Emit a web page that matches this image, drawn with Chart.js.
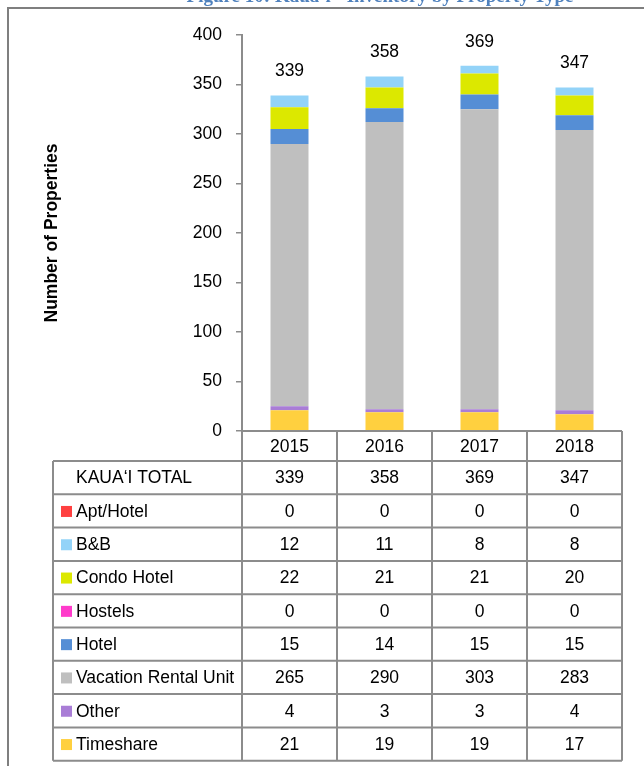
<!DOCTYPE html>
<html>
<head>
<meta charset="utf-8">
<script src="https://cdn.jsdelivr.net/npm/chart.js@4"></script>
<style>
  html, body { margin: 0; padding: 0; background: #fff; }
  canvas { display: block; }
</style>
</head>
<body>
<canvas id="inventory-chart" width="644" height="766"></canvas>
<script>
// values
const years = ["2015", "2016", "2017", "2018"];
const aptHotel = [0, 0, 0, 0];
const bnb = [12, 11, 8, 8];
const condoHotel = [22, 21, 21, 20];
const hostels = [0, 0, 0, 0];
const hotel = [15, 14, 15, 15];
const vacationRental = [265, 290, 303, 283];
const other = [4, 3, 3, 4];
const timeshare = [21, 19, 19, 17];
const totals = [339, 358, 369, 347];
const totalLabel = "KAUA\u2018I TOTAL";

// table order, top to bottom
const rows = [
  { label: "Apt/Hotel", data: aptHotel, color: "#FF4040" },
  { label: "B&B", data: bnb, color: "#93D3F8" },
  { label: "Condo Hotel", data: condoHotel, color: "#DCE800" },
  { label: "Hostels", data: hostels, color: "#FF3BCB" },
  { label: "Hotel", data: hotel, color: "#558ED5" },
  { label: "Vacation Rental Unit", data: vacationRental, color: "#BFBFBF" },
  { label: "Other", data: other, color: "#A97DD6" },
  { label: "Timeshare", data: timeshare, color: "#FFD03F" },
];

const FONT = '"Liberation Sans", Arial, sans-serif';
const FS = 17.5;
const LINE = "#8c8c8c";

// stacks build from the first dataset up, so bottom row goes first
const datasets = rows.slice().reverse().map(function (r) {
  return {
    label: r.label,
    data: r.data,
    backgroundColor: r.color,
    borderWidth: 0,
    categoryPercentage: 1,
    barPercentage: 0.4,
  };
});

const frameAndTitle = {
  id: "frameAndTitle",
  beforeDraw(chart) {
    const ctx = chart.ctx;
    ctx.save();
    ctx.fillStyle = "#4F81BD";
    ctx.font = 'bold 19px "Liberation Serif", serif';
    ctx.textAlign = "center";
    ctx.textBaseline = "alphabetic";
    ctx.fillText("Figure 10: Kaua\u2018i - Inventory by Property Type", 380, 2, 412);
    ctx.strokeStyle = "#7f7f7f";
    ctx.lineWidth = 2;
    ctx.beginPath();
    ctx.moveTo(8, 766);
    ctx.lineTo(8, 8);
    ctx.lineTo(644, 8);
    ctx.stroke();
    ctx.restore();
  },
};

const totalLabels = {
  id: "totalLabels",
  afterDatasetsDraw(chart) {
    const { ctx, scales } = chart;
    ctx.save();
    ctx.fillStyle = "#000";
    ctx.font = FS + "px " + FONT;
    ctx.textAlign = "center";
    ctx.textBaseline = "middle";
    totals.forEach(function (t, i) {
      ctx.fillText(String(t), scales.x.getPixelForValue(i), scales.y.getPixelForValue(t) - 24);
    });
    ctx.restore();
  },
};

const dataTable = {
  id: "dataTable",
  afterDraw(chart) {
    const { ctx, chartArea, scales } = chart;
    const x = scales.x;
    const colW = (chartArea.right - chartArea.left) / years.length;
    const labelLeft = 53;
    const top = chartArea.bottom;
    const headBottom = top + 30;
    const rowH = 33.3;
    const bodyRows = rows.length + 1;
    const bottom = headBottom + bodyRows * rowH;

    ctx.save();
    ctx.strokeStyle = LINE;
    ctx.lineWidth = 2;
    ctx.beginPath();
    ctx.moveTo(chartArea.left, top);
    ctx.lineTo(chartArea.right, top);
    for (let r = 0; r <= bodyRows; r++) {
      const y = headBottom + r * rowH;
      ctx.moveTo(labelLeft, y);
      ctx.lineTo(chartArea.right, y);
    }
    ctx.moveTo(labelLeft, headBottom);
    ctx.lineTo(labelLeft, bottom);
    for (let c = 0; c <= years.length; c++) {
      const cx = chartArea.left + c * colW;
      ctx.moveTo(cx, top);
      ctx.lineTo(cx, bottom);
    }
    ctx.stroke();

    ctx.fillStyle = "#000";
    ctx.font = FS + "px " + FONT;
    ctx.textBaseline = "middle";
    ctx.textAlign = "center";
    years.forEach(function (yr, i) {
      ctx.fillText(yr, x.getPixelForValue(i), (top + headBottom) / 2 + 1);
    });

    const lines = [{ label: totalLabel, data: totals, color: null }].concat(rows);
    lines.forEach(function (row, r) {
      const cy = headBottom + r * rowH + rowH / 2 + 1;
      if (row.color) {
        ctx.fillStyle = row.color;
        ctx.fillRect(61, cy - 6, 11, 11);
      }
      ctx.fillStyle = "#000";
      ctx.textAlign = "left";
      ctx.fillText(row.label, 76, cy);
      ctx.textAlign = "center";
      row.data.forEach(function (v, i) {
        ctx.fillText(String(v), x.getPixelForValue(i), cy);
      });
    });
    ctx.restore();
  },
};

new Chart(document.getElementById("inventory-chart"), {
  type: "bar",
  data: { labels: years, datasets: datasets },
  plugins: [frameAndTitle, totalLabels, dataTable],
  options: {
    responsive: false,
    animation: false,
    devicePixelRatio: 1,
    layout: { padding: { left: 0, right: 22, top: 35, bottom: 335 } },
    plugins: { legend: { display: false }, tooltip: { enabled: false } },
    scales: {
      x: { stacked: true, display: false },
      y: {
        stacked: true,
        min: 0,
        max: 400,
        afterFit(scale) { scale.width = 242; },
        ticks: { stepSize: 50, padding: 14, color: "#000", font: { family: FONT, size: FS } },
        grid: { drawOnChartArea: false, drawTicks: true, tickLength: 6, color: LINE, lineWidth: 1.5 },
        border: { display: true, color: LINE, width: 2 },
        title: {
          display: true,
          text: "Number of Properties",
          color: "#000",
          font: { family: FONT, size: FS, weight: "bold" },
          padding: { top: 42, bottom: 0 },
        },
      },
    },
  },
});
</script>
</body>
</html>
